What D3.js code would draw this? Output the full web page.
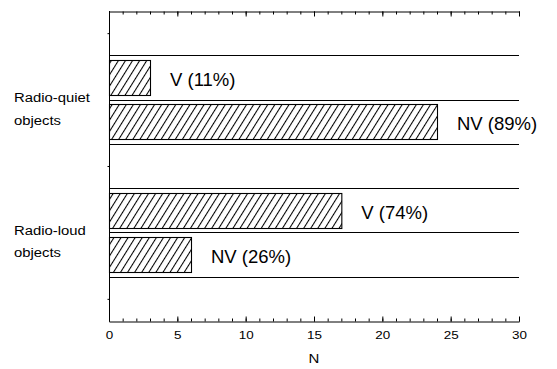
<!DOCTYPE html>
<html>
<head>
<meta charset="utf-8">
<script src="https://cdn.jsdelivr.net/npm/d3@7"></script>
<style>
  html, body { margin: 0; padding: 0; background: #fff; }
  svg { display: block; font-family: "Liberation Sans", Arial, sans-serif; }
</style>
</head>
<body>
<svg id="chart" width="557" height="369"></svg>
<script>
// ---- data ----
const categories = ["Radio-quiet objects", "Radio-loud objects"];
const categoryLines = [["Radio-quiet", "objects"], ["Radio-loud", "objects"]];
const seriesNames = ["V", "NV"];
const vValues = [3, 17];
const nvValues = [24, 6];
const vPercent = [11, 74];
const nvPercent = [89, 26];
const xTickValues = [0, 5, 10, 15, 20, 25, 30];
const xAxisTitle = "N";

// ---- layout ----
const svg = d3.select("#chart");
const plotLeft = 109, plotRight = 519, plotTop = 11, plotBottom = 321;

const x = d3.scaleLinear().domain([0, 30]).range([plotLeft, plotRight]);

// rows: empty, quiet V, quiet NV, empty, loud V, loud NV, empty
const rowKeys = ["gap0", "q-V", "q-NV", "gap1", "l-V", "l-NV", "gap2"];
const y = d3.scaleBand().domain(rowKeys).range([plotTop, plotBottom]).padding(0);
const bw = y.bandwidth();
const inset = bw * 0.105;

const bars = [];
categories.forEach((c, i) => {
  const pfx = i === 0 ? "q" : "l";
  bars.push({ row: pfx + "-V", value: vValues[i], label: `${seriesNames[0]} (${vPercent[i]}%)` });
  bars.push({ row: pfx + "-NV", value: nvValues[i], label: `${seriesNames[1]} (${nvPercent[i]}%)` });
});

// hatch pattern
const defs = svg.append("defs");
const pat = defs.append("pattern")
  .attr("id", "hatch")
  .attr("patternUnits", "userSpaceOnUse")
  .attr("width", 6).attr("height", 10)
  .attr("patternTransform", "rotate(32)");
pat.append("rect").attr("width", 6).attr("height", 10).attr("fill", "#fff");
pat.append("line").attr("x1", 0.5).attr("y1", 0).attr("x2", 0.5).attr("y2", 10)
  .attr("stroke", "#000").attr("stroke-width", 1.1);

// band lines (top & bottom of each bar row)
const g = svg.append("g");
bars.forEach(b => {
  [y(b.row), y(b.row) + bw].forEach(yy => {
    g.append("line")
      .attr("x1", plotLeft).attr("x2", plotRight)
      .attr("y1", Math.round(yy) + 0.5).attr("y2", Math.round(yy) + 0.5)
      .attr("stroke", "#000").attr("stroke-width", 1.2);
  });
});

// bars
g.selectAll("rect.bar").data(bars).enter().append("rect")
  .attr("class", "bar")
  .attr("x", plotLeft + 0.5)
  .attr("y", d => Math.round(y(d.row) + inset) + 0.5)
  .attr("width", d => x(d.value) - x(0))
  .attr("height", Math.round(bw - 2 * inset))
  .attr("fill", "url(#hatch)")
  .attr("stroke", "#000").attr("stroke-width", 1.1);

// bar labels
g.selectAll("text.blab").data(bars).enter().append("text")
  .attr("class", "blab")
  .attr("x", d => x(d.value) + 20)
  .attr("y", d => y(d.row) + bw / 2 + 8.5)
  .attr("font-size", 18.5)
  .attr("fill", "#000")
  .text(d => d.label);

// bottom axis (ticks inside)
const minorTicks = d3.range(0, 31, 1);
const axB = svg.append("g").attr("transform", `translate(0,${plotBottom + 0.5})`)
  .call(d3.axisBottom(x).tickValues(xTickValues).tickSizeInner(-5).tickSizeOuter(0).tickPadding(9)
    .tickFormat(d3.format("d")));
axB.selectAll("text")
  .attr("font-size", 11.5)
  .attr("font-family", "Liberation Sans, Arial, sans-serif")
  .attr("fill", "#000")
  .attr("transform", "scale(1.17,1)");
const axBm = svg.append("g").attr("transform", `translate(0,${plotBottom + 0.5})`)
  .call(d3.axisBottom(x).tickValues(minorTicks).tickSizeInner(-3).tickSizeOuter(0).tickFormat(""));
axBm.select(".domain").remove();

// top axis (ticks inside, no labels)
const axT = svg.append("g").attr("transform", `translate(0,${plotTop + 0.5})`)
  .call(d3.axisTop(x).tickValues(xTickValues).tickSizeInner(-5).tickSizeOuter(0).tickFormat(""));
const axTm = svg.append("g").attr("transform", `translate(0,${plotTop + 0.5})`)
  .call(d3.axisTop(x).tickValues(minorTicks).tickSizeInner(-3).tickSizeOuter(0).tickFormat(""));
axTm.select(".domain").remove();

// left axis line with small ticks at empty rows
const yTickScale = d3.scalePoint().domain(rowKeys).range([plotTop + bw / 2, plotBottom - bw / 2]);
const axL = svg.append("g").attr("transform", `translate(${plotLeft + 0.5},0)`)
  .call(d3.axisLeft(yTickScale).tickValues(["gap0", "gap1", "gap2"]).tickSizeInner(2).tickSizeOuter(0).tickFormat(""));
axL.select(".domain").attr("d", `M0,${plotTop}V${plotBottom + 0.5}`);

// category labels
categoryLines.forEach((lines, i) => {
  const boundary = y(i === 0 ? "q-NV" : "l-NV");
  const t = svg.append("text")
    .attr("transform", `translate(14,${boundary + 2.5}) scale(1.1,1)`)
    .attr("font-size", 13.5).attr("fill", "#000");
  lines.forEach((ln, j) => {
    t.append("tspan").attr("x", 0).attr("dy", j === 0 ? 0 : 22.5).text(ln);
  });
});

// x-axis title
svg.append("text")
  .attr("transform", `translate(${(plotLeft + plotRight) / 2},363) scale(1.2,1)`)
  .attr("text-anchor", "middle").attr("font-size", 12.5).attr("fill", "#000")
  .text(xAxisTitle);
</script>
</body>
</html>
